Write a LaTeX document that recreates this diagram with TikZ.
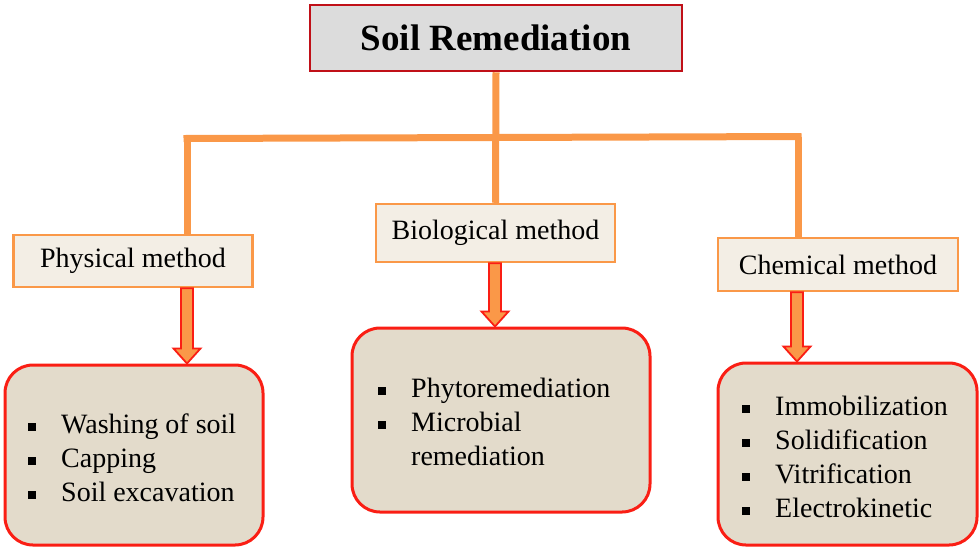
\documentclass[tikz,border=0pt]{standalone}
\usepackage{fontspec}
\setmainfont{Liberation Serif}
\usetikzlibrary{calc}
\definecolor{lineor}{RGB}{250,152,72}
\definecolor{boxred}{RGB}{192,16,24}
\definecolor{topfill}{RGB}{220,220,220}
\definecolor{methfill}{RGB}{243,238,229}
\definecolor{listfill}{RGB}{227,219,203}
\definecolor{brightred}{RGB}{250,30,20}
\newcommand\itm[1]{\makebox[33pt][l]{\raisebox{3pt}{\rule{8pt}{8pt}}}#1}
\tikzset{
  titlebox/.style={draw=boxred, line width=2.5pt, fill=topfill, minimum width=372pt, minimum height=66pt, inner sep=0pt, font=\fontsize{37}{40}\selectfont\bfseries},
  methbox/.style={draw=lineor, line width=2.5pt, fill=methfill, minimum width=239pt, inner sep=0pt, font=\fontsize{28}{32}\selectfont},
  listbox/.style={draw=brightred, line width=3pt, fill=listfill, rounded corners=28pt, inner sep=0pt},
  listtext/.style={anchor=west, align=left, inner sep=0pt, font=\fontsize{28}{34}\selectfont},
  branch/.style={draw=lineor, line width=7pt},
  fatarrow/.style={fill=lineor, draw=brightred, line width=1.8pt, line join=miter}
}
\begin{document}
\begin{tikzpicture}[x=1pt,y=-1pt]
\useasboundingbox (0,0) rectangle (980,550);
% nodes
\node[titlebox] (top) at (496,38) {Soil Remediation};
\node[methbox, minimum height=52pt] (phys) at (133,261) {Physical method};
\node[methbox, minimum height=58pt] (bio) at (495.5,233) {Biological method};
\node[methbox, minimum height=53pt, minimum width=240pt] (chem) at (838,264.5) {Chemical method};
\node[listbox, minimum width=258pt, minimum height=180pt] (physl) at (134,455) {};
\node[listbox, minimum width=298pt, minimum height=184pt] (biol) at (501,420) {};
\node[listbox, minimum width=259pt, minimum height=182pt] (cheml) at (847.5,454) {};
\node[listtext] (physt) at (28,458) {\itm{Washing of soil}\\\itm{Capping}\\\itm{Soil excavation}};
\node[listtext] (biot) at (378,422) {\itm{Phytoremediation}\\\itm{Microbial}\\\hspace{33pt}remediation};
\node[listtext] (chemt) at (742,457) {\itm{Immobilization}\\\itm{Solidification}\\\itm{Vitrification}\\\itm{Electrokinetic}};
% branch lines
\coordinate (pl) at (187,138.5);
\coordinate (pr) at (798,136.5);
\coordinate (pm) at (495,137.5);
\draw[branch] ($(pl)+(-3.5,0)$) -- ($(pr)+(3.5,0)$);
\draw[branch] (top.south) -- (bio.north);
\draw[branch] (pl) -- (pl |- phys.north);
\draw[branch] (pr) -- (pr |- chem.north);
% arrows
\coordinate (pa) at (pl |- phys.south);
\coordinate (pb) at (pl |- physl.north);
\coordinate (ba) at (pm |- bio.south);
\coordinate (bb) at (pm |- biol.north);
\coordinate (ca) at (797,0 |- chem.south);
\coordinate (cb) at (797,0 |- cheml.north);
\foreach \a/\b in {pa/pb, ba/bb, ca/cb}{
  \draw[fatarrow] ($(\a)+(-6,0)$) -- ($(\b)+(-6,-15)$) -- ($(\b)+(-13.5,-15)$) -- (\b) -- ($(\b)+(13.5,-15)$) -- ($(\b)+(6,-15)$) -- ($(\a)+(6,0)$) -- cycle;
}
\end{tikzpicture}
\end{document}
